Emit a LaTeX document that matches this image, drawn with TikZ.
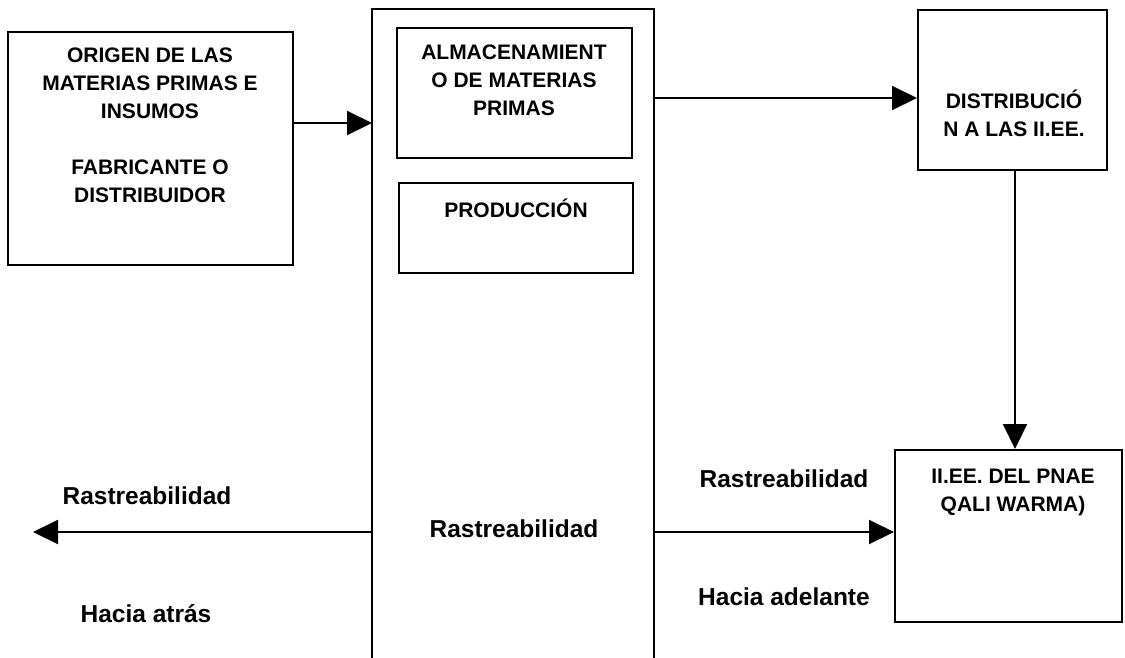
\documentclass[tikz,border=0pt]{standalone}
\usepackage{fontspec}
\setmainfont{Liberation Sans}
\usetikzlibrary{arrows.meta}

\begin{document}
\begin{tikzpicture}[x=1pt,y=-1pt,line width=2pt,
  every node/.style={font=\bfseries\fontsize{21}{28}\selectfont,inner sep=0pt},
  caja/.style={draw,minimum width=#1},
  txt/.style={align=center,anchor=base},
  etiqueta/.style={txt,font=\bfseries\fontsize{24.5}{28}\selectfont},
  flecha/.style={-{Triangle[length=25pt,width=24pt]}}]
\useasboundingbox (0,0) rectangle (1125,657);
% Origen (base = ultima linea)
\node[caja=285,minimum height=233] (origen) at (150.5,148) {};
\node[txt] (origen-t) at (150,202.5) {ORIGEN DE LAS\\MATERIAS PRIMAS E\\INSUMOS\\[28pt]FABRICANTE O\\DISTRIBUIDOR};
% Planta (abierta por abajo)
\node[minimum width=280,minimum height=647] (planta) at (513,333.5) {};
\draw (planta.south west) -- (planta.north west) -- (planta.north east) -- (planta.south east);
\node[caja=235,minimum height=130] (alm) at (514.5,93) {};
\node[txt] (alm-t) at (514,115) {ALMACENAMIENT\\O DE MATERIAS\\PRIMAS};
\node[caja=234,minimum height=90] (prod) at (516,228) {};
\node[txt] (prod-t) at (516,217.5) {PRODUCCIÓN};
\node[etiqueta] (rastreo) at (514,537) {Rastreabilidad};
% Distribucion
\node[caja=189,minimum height=160] (dist) at (1012.5,90) {};
\node[txt] (dist-t) at (1014,136.5) {DISTRIBUCIÓ\\N A LAS II.EE.};
% II.EE.
\node[caja=227,minimum height=172] (iiee) at (1008.5,536) {};
\node[txt] (iiee-t) at (1013,511.5) {II.EE. DEL PNAE\\QALI WARMA)};
% Etiquetas
\node[etiqueta] (atras-t) at (147,504) {Rastreabilidad};
\node[etiqueta] (atras-b) at (146,622) {Hacia atrás};
\node[etiqueta] (adel-t) at (784,487) {Rastreabilidad};
\node[etiqueta] (adel-b) at (784,605) {Hacia adelante};
% Flechas
\coordinate (atras) at (33,532);
\draw[flecha] ([yshift=25pt]origen.east) -- ([yshift=25pt]origen.east -| planta.west);
\draw[flecha] ([yshift=-8pt]dist.west -| planta.east) -- ([yshift=-8pt]dist.west);
\draw[flecha] ([xshift=2.5pt]dist.south) -- ([xshift=2.5pt]dist.south |- iiee.north);
\draw[flecha] ([yshift=4pt]iiee.west -| planta.east) -- ([yshift=4pt]iiee.west);
\draw[flecha] ([yshift=4pt]iiee.west -| planta.west) -- (atras);
\end{tikzpicture}
\end{document}
